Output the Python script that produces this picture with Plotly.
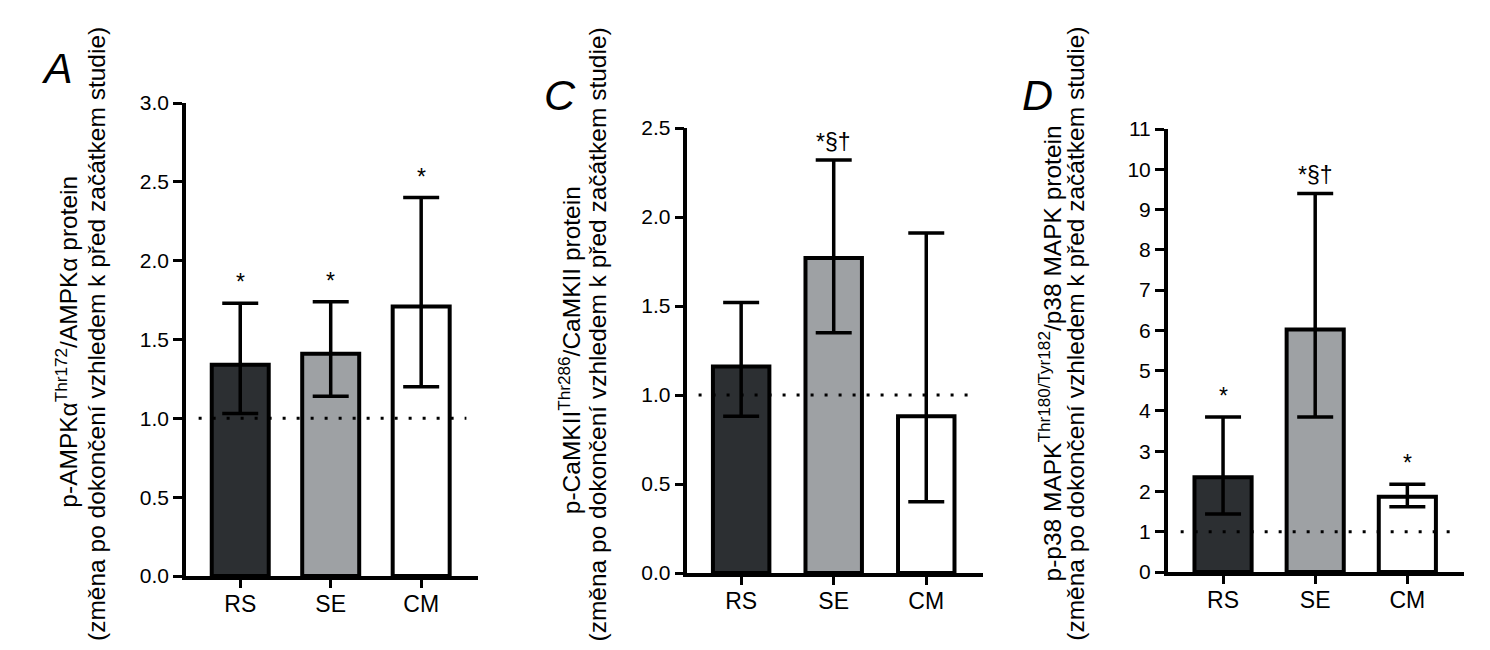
import plotly.graph_objects as go

categories = ["RS", "SE", "CM"]
bar_colors = ["#2c2f32", "#9ea1a4", "#ffffff"]

# Panel A: p-AMPKα
a_mean = [1.34, 1.41, 1.71]
a_upper = [1.73, 1.74, 2.40]
a_lower = [1.03, 1.14, 1.20]
a_marks = ["*", "*", "*"]

# Panel C: p-CaMKII
c_mean = [1.16, 1.77, 0.88]
c_upper = [1.52, 2.32, 1.91]
c_lower = [0.88, 1.35, 0.40]
c_marks = ["", "*§†", ""]

# Panel D: p-p38 MAPK
d_mean = [2.35, 6.02, 1.87]
d_upper = [3.85, 9.40, 2.18]
d_lower = [1.44, 3.85, 1.62]
d_marks = ["*", "*§†", "*"]

a_ticks = [0.0, 0.5, 1.0, 1.5, 2.0, 2.5, 3.0]
c_ticks = [0.0, 0.5, 1.0, 1.5, 2.0, 2.5]
d_ticks = list(range(0, 12))

FONT = "Liberation Sans, Arial, Helvetica, sans-serif"
W, H = 1490, 650

# the page is shown with an 8px body margin; map target screen pixels to
# figure pixels
OFFX, SCX = 8.0, 0.989
OFFY, SCY = 8.0, 1.0


def fx(px):
    return (px - OFFX) / SCX / W


def fy(py):
    return 1 - (py - OFFY) / SCY / H


panels = [
    dict(mean=a_mean, upper=a_upper, lower=a_lower, marks=a_marks, ticks=a_ticks,
         tickfmt=".1f", yrange=[0, 3.0], xdom=[184, 473], ydom=[576, 103],
         xrange=[-0.6, 2.63], bw=0.63, letter="A", letter_pos=(56, 68),
         t1="p-AMPKα<sup>Thr172</sup>/AMPKα protein", t1x=65, t1y=342, t2x=96, t2y=334),
    dict(mean=c_mean, upper=c_upper, lower=c_lower, marks=c_marks, ticks=c_ticks,
         tickfmt=".1f", yrange=[0, 2.5], xdom=[680, 972], ydom=[573, 128],
         xrange=[-0.58, 2.61], bw=0.61, letter="C", letter_pos=(554, 95),
         t1="p-CaMKII<sup>Thr286</sup>/CaMKII protein", t1x=563, t1y=350, t2x=592, t2y=334),
    dict(mean=d_mean, upper=d_upper, lower=d_lower, marks=d_marks, ticks=d_ticks,
         tickfmt="d", yrange=[0, 11], xdom=[1155, 1448], ydom=[572, 129],
         xrange=[-0.6, 2.615], bw=0.62, letter="D", letter_pos=(1026, 95),
         t1="p-p38 MAPK<sup>Thr180/Tyr182</sup>/p38 MAPK protein", t1x=1038, t1y=353, t2x=1064, t2y=334),
]

t2 = "(změna po dokončení vzhledem k před začátkem studie)"

fig = go.Figure()
annotations = []
shapes = []
layout_axes = {}

for i, p in enumerate(panels, start=1):
    xs = f"x{i if i > 1 else ''}"
    ys = f"y{i if i > 1 else ''}"
    xpos = list(range(len(categories)))
    plus = [u - m for u, m in zip(p["upper"], p["mean"])]
    minus = [m - l for m, l in zip(p["mean"], p["lower"])]
    fig.add_trace(go.Bar(
        x=xpos, y=p["mean"], width=p["bw"],
        marker=dict(color=bar_colors, line=dict(color="black", width=4)),
        error_y=dict(type="data", symmetric=False, array=plus, arrayminus=minus,
                     color="black", thickness=3.5, width=18),
        xaxis=xs, yaxis=ys, showlegend=False,
    ))
    xa = "xaxis" + (str(i) if i > 1 else "")
    ya = "yaxis" + (str(i) if i > 1 else "")
    layout_axes[xa] = dict(
        domain=[fx(p["xdom"][0]), fx(p["xdom"][1])], range=p["xrange"],
        anchor=ys, tickmode="array", tickvals=xpos, ticktext=categories,
        showline=True, linecolor="black", linewidth=3.5, ticks="outside",
        ticklen=8, tickwidth=3, tickcolor="black", showgrid=False, zeroline=False,
        tickfont=dict(family=FONT, size=23, color="black"), fixedrange=True,
        automargin=False, ticklabelstandoff=-3,
    )
    layout_axes[ya] = dict(
        domain=[fy(p["ydom"][0]), fy(p["ydom"][1])], range=p["yrange"],
        anchor=xs, tickmode="array", tickvals=p["ticks"],
        ticktext=[format(t, p["tickfmt"]) for t in p["ticks"]],
        showline=True, linecolor="black", linewidth=3.5, ticks="outside",
        ticklen=9, tickwidth=3, tickcolor="black", showgrid=False, zeroline=False,
        tickfont=dict(family=FONT, size=21, color="black"), fixedrange=True,
        automargin=False,
    )
    shapes.append(dict(type="line", xref=xs, yref=ys, x0=-0.46, x1=2.5, y0=1, y1=1,
                       line=dict(color="black", width=3, dash="3px,11px"), layer="above"))
    for xi, (mk, up) in enumerate(zip(p["marks"], p["upper"])):
        if mk:
            annotations.append(dict(x=xi, y=up, xref=xs, yref=ys, text=mk, showarrow=False,
                                    yanchor="bottom", yshift=6 if mk == "*" else 3,
                                    font=dict(family=FONT, size=23, color="black")))
    lx, ly = p["letter_pos"]
    annotations.append(dict(x=fx(lx), y=fy(ly), xref="paper", yref="paper",
                            text=f"<i>{p['letter']}</i>", showarrow=False,
                            xanchor="center", yanchor="middle",
                            font=dict(family=FONT, size=43, color="black")))
    annotations.append(dict(x=fx(p["t1x"]), y=fy(p["t1y"]), xref="paper", yref="paper",
                            text=p["t1"], textangle=-90, showarrow=False,
                            xanchor="center", yanchor="middle",
                            font=dict(family=FONT, size=24.5, color="black")))
    annotations.append(dict(x=fx(p["t2x"]), y=fy(p["t2y"]), xref="paper", yref="paper",
                            text=t2, textangle=-90, showarrow=False,
                            xanchor="center", yanchor="middle",
                            font=dict(family=FONT, size=24.5, color="black")))

fig.update_layout(
    width=W, height=H, margin=dict(l=0, r=0, t=0, b=0, pad=0, autoexpand=False),
    paper_bgcolor="white", plot_bgcolor="white",
    annotations=annotations, shapes=shapes, bargap=0.3,
    **layout_axes,
)

fig.write_html("out.html")
